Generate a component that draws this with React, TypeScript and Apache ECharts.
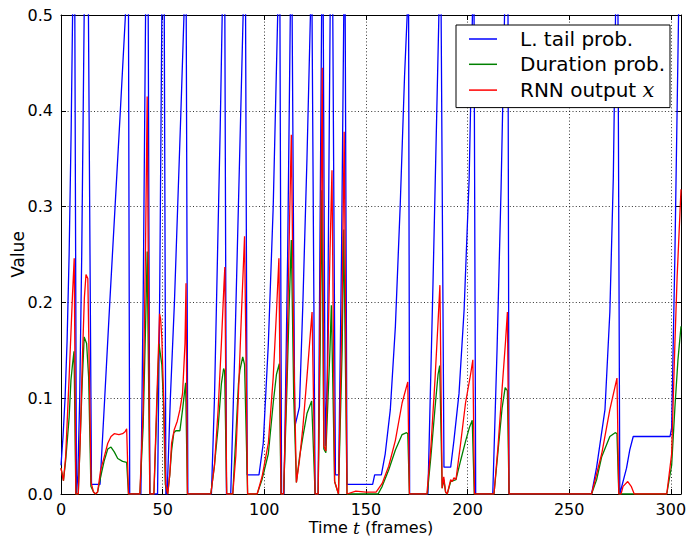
import React, { useEffect, useRef } from 'react';
import * as echarts from 'echarts';

const xMin = 0;
const xMax = 305;
const xStep = 50;
const yMin = 0;
const yMax = 0.5;
const yStep = 0.1;

const seriesNames = ['L. tail prob.', 'Duration prob.', 'RNN output x'];

// [frame, value] — values above 0.5 run off the top of the plot as in the reference
const tailProb: [number, number][] = [
  [0, 0.03], [1, 0.06], [2, 0.1], [3, 0.16], [4, 0.25], [5, 0.38], [5.7, 0.5], [6.2, 0.6], [6.8, 0.5], [7.6, 0],
  [8.3, 0.02], [9.2, 0.1], [10.2, 0.25], [11.4, 0.5], [12.5, 0.6], [13.5, 0.5], [15, 0.01], [19.2, 0.01], [21.5, 0.1], [24, 0.2], [26.6, 0.3], [29.2, 0.4], [31.7, 0.5], [32.5, 0.6], [33.2, 0.5], [33.8, 0],
  [39.3, 0], [40.5, 0.22], [41.6, 0.5], [42.2, 0.6], [42.9, 0.5], [43.7, 0],
  [47.5, 0], [48.6, 0.22], [49.6, 0.5], [50.2, 0.6], [50.8, 0.5], [51.6, 0],
  [52.2, 0], [53.8, 0.1], [55.8, 0.2], [57.4, 0.3], [59, 0.4], [60.5, 0.5], [61, 0.6], [61.6, 0.5], [62.4, 0],
  [74, 0], [75.5, 0.1], [77, 0.25], [78.3, 0.38], [79.3, 0.5], [80, 0.6], [80.6, 0.5], [81.4, 0],
  [83.5, 0], [85.5, 0.15], [87.5, 0.32], [89.6, 0.5], [90.2, 0.6], [90.8, 0.5], [91.6, 0.02], [97.4, 0.02], [99.5, 0.053], [102, 0.157], [104.4, 0.3], [106.6, 0.5], [107.1, 0.6], [107.7, 0.5], [108.5, 0],
  [109.7, 0], [111.5, 0.25], [112.8, 0.5], [113.2, 0.6], [113.7, 0.5], [115, 0.07], [117.3, 0.091], [119, 0.2], [121, 0.35], [122.7, 0.5], [123.1, 0.6], [123.5, 0.5], [125, 0],
  [126.5, 0], [128.2, 0.5], [128.6, 0.6], [129, 0.5], [130, 0.05], [131, 0.12], [132.4, 0.5], [133, 0.6], [133.7, 0.5], [135, 0.02], [136.6, 0.02], [138, 0.25], [139.1, 0.5], [139.4, 0.6], [139.8, 0.5], [140.7, 0.01],
  [153.3, 0.01], [154.3, 0.02], [157.6, 0.02], [159.5, 0.042], [162, 0.088], [164.5, 0.175], [166.9, 0.303], [169, 0.436], [170.3, 0.5], [170.7, 0.6], [171, 0.5], [171.5, 0],
  [180.5, 0], [183, 0.22], [185.9, 0.5], [186.4, 0.6], [187, 0.5], [188.4, 0.028], [191.7, 0.028], [193.3, 0.056], [195.8, 0.105], [198.3, 0.192], [200.8, 0.33], [202.4, 0.5], [202.8, 0.6], [203.2, 0.5], [204, 0],
  [212.4, 0], [214.5, 0.15], [216.5, 0.32], [218.2, 0.5], [219, 0.6], [219.9, 0.5], [220.4, 0],
  [261, 0], [263.5, 0.028], [267.6, 0.088], [270, 0.19], [271.7, 0.33], [272.8, 0.5], [273.4, 0.6], [274, 0.5], [274.9, 0],
  [278.2, 0.027], [279.8, 0.046], [281.5, 0.06], [299.6, 0.06], [300.4, 0.069], [302, 0.25], [303.8, 0.5], [305, 0.75],
];

const durationProb: [number, number][] = [
  [0, 0.027], [1.2, 0.014], [2.3, 0.035], [4, 0.08], [4.9, 0.119], [5.7, 0.136], [6.4, 0.149], [7.3, 0],
  [8.5, 0], [9.5, 0.06], [10.5, 0.12], [11.4, 0.164], [12.6, 0.157], [13.6, 0.122], [14.7, 0.008], [16, 0.002], [17, 0], [18, 0.002], [19.5, 0.018], [21.3, 0.035], [23, 0.047], [24.6, 0.049], [26.2, 0.044], [27.9, 0.037], [30.3, 0.034], [32.3, 0.033], [33.2, 0],
  [38.8, 0], [40.4, 0.07], [41.6, 0.175], [42.4, 0.253], [43.7, 0],
  [45.7, 0], [47, 0.08], [48.2, 0.157], [49.6, 0.135], [50.5, 0.09], [51.3, 0.01], [52.5, 0],
  [53.5, 0.02], [54.4, 0.045], [55.5, 0.064], [56.5, 0.066], [58.5, 0.066], [59.8, 0.088], [61.3, 0.116], [62.2, 0],
  [73.7, 0], [75.5, 0.03], [77.3, 0.07], [78.9, 0.115], [80, 0.131], [80.5, 0.128], [81.5, 0],
  [84.5, 0], [86, 0.06], [87.3, 0.115], [88, 0.129], [89.4, 0.143], [90.3, 0.135], [91.8, 0],
  [96.5, 0], [98.9, 0.015], [102, 0.042], [104.4, 0.095], [106, 0.125], [107.4, 0.136], [108.2, 0],
  [109.5, 0], [111, 0.1], [112.3, 0.2], [113.3, 0.265], [114.5, 0.1], [115.8, 0.012], [117.3, 0.038], [119, 0.06], [121, 0.084], [123.3, 0.097], [125, 0],
  [126.5, 0], [127.5, 0.15], [128.3, 0.317], [129.3, 0.047], [130.3, 0.043], [132.3, 0.15], [133, 0.197], [134.6, 0.013], [136.5, 0], [138.3, 0.15], [139.1, 0.276], [140.7, 0],
  [156, 0], [158, 0.008], [161.2, 0.025], [164.5, 0.046], [167.8, 0.062], [170, 0.064], [170.6, 0.063], [171.4, 0],
  [180.2, 0], [182, 0.04], [184, 0.09], [185.5, 0.125], [186.3, 0.134], [187.5, 0.006], [188.3, 0.015], [189.2, 0.002], [190, 0], [191.7, 0.013], [194.3, 0.015], [196.6, 0.035], [199, 0.055], [201, 0.07], [202.3, 0.077], [203.3, 0],
  [213, 0], [215, 0.045], [217, 0.09], [218.5, 0.111], [219.6, 0.108], [220.4, 0],
  [261, 0], [263.5, 0.015], [266, 0.039], [270, 0.06], [272.6, 0.064], [273.5, 0.063], [274.4, 0],
  [298, 0], [300.4, 0.03], [302, 0.09], [303.5, 0.14], [305, 0.175],
];

const rnnOutput: [number, number][] = [
  [0, 0.027], [1.2, 0.014], [2.3, 0.039], [4, 0.122], [5.7, 0.21], [6.5, 0.246], [7.3, 0],
  [8.5, 0], [9.5, 0.06], [10.5, 0.14], [11.5, 0.205], [12.3, 0.229], [13.2, 0.225], [14.8, 0.012], [16, 0.002], [17, 0], [18, 0.002], [19.5, 0.025], [21.3, 0.039], [23, 0.053], [24.6, 0.06], [26.2, 0.063], [28.5, 0.062], [30.3, 0.063], [31.5, 0.065], [32.3, 0.068], [33.2, 0],
  [38.8, 0], [40.4, 0.088], [41.6, 0.26], [42.4, 0.415], [43.7, 0],
  [45.7, 0], [47, 0.09], [48.5, 0.188], [49, 0.183], [49.6, 0.163], [50.5, 0.1], [51.5, 0.01], [52.5, 0],
  [53.5, 0.02], [54.4, 0.053], [55.7, 0.067], [57.2, 0.076], [58.5, 0.088], [59.8, 0.105], [61, 0.157], [61.5, 0.22], [62.2, 0],
  [73.7, 0], [75.5, 0.03], [77.3, 0.088], [78.9, 0.157], [80.2, 0.22], [80.6, 0.237], [81.5, 0],
  [84.5, 0], [86, 0.04], [87.3, 0.105], [88.8, 0.19], [90.3, 0.269], [91.8, 0],
  [96.5, 0], [98.9, 0.018], [102, 0.053], [104.4, 0.122], [106, 0.19], [107.2, 0.246], [108.2, 0],
  [109.5, 0], [111, 0.12], [112.3, 0.27], [113.3, 0.375], [114.5, 0.15], [115.8, 0.012], [117.3, 0.035], [119, 0.07], [121, 0.122], [123.5, 0.19], [125, 0],
  [126.5, 0], [127.5, 0.2], [128.5, 0.445], [129.3, 0.05], [130.3, 0.045], [132.3, 0.25], [133.3, 0.338], [134.6, 0.013], [136.5, 0], [138.3, 0.2], [139.3, 0.378], [140.7, 0],
  [145, 0.003], [150, 0.002], [155, 0.002], [158, 0.011], [161.2, 0.029], [164.5, 0.056], [167.8, 0.095], [170.6, 0.117], [171.4, 0],
  [180, 0], [182, 0.05], [184, 0.12], [185.5, 0.18], [186.4, 0.218], [187.5, 0.006], [188.3, 0.018], [189.2, 0.002], [190, 0], [191.7, 0.015], [192.5, 0.013], [193.3, 0.017], [194.3, 0.015], [196.6, 0.053], [199, 0.095], [201.5, 0.125], [202.6, 0.14], [203.4, 0],
  [213, 0], [215, 0.05], [217, 0.11], [218.7, 0.16], [219.6, 0.19], [220.4, 0],
  [261, 0], [266, 0.042], [270, 0.088], [273.5, 0.121], [274.4, 0], [275.5, 0], [276.5, 0.008], [278.8, 0.013], [280.5, 0.008], [282, 0],
  [298, 0], [300.4, 0.042], [302, 0.157], [303.1, 0.227], [305, 0.318],
];

const colors = ['#0000ff', '#008000', '#ff0000'];
const FONT = 'DejaVu Sans';

export default function App() {
  const ref = useRef<HTMLDivElement>(null);

  useEffect(() => {
    if (!ref.current) return;
    const chart = echarts.init(ref.current, null, { renderer: 'svg' });

    const frameLine = { show: true, onZero: false, lineStyle: { color: '#000', width: 1 } };
    const tick = { show: true, inside: true, length: 5, lineStyle: { color: '#000', width: 1 } };
    const grid = { show: true, lineStyle: { color: '#000', width: 0.8, type: [1, 2.3] } };
    const label = { color: '#000', fontSize: 16, fontFamily: FONT };

    chart.setOption({
      animation: false,
      grid: { left: 61, right: 7, top: 15, bottom: 44, containLabel: false, outerBoundsMode: 'none' },
      xAxis: [
        {
          type: 'value', min: xMin, max: xMax, interval: xStep, position: 'bottom',
          axisLine: frameLine, axisTick: tick, splitLine: grid,
          axisLabel: { ...label, margin: 7, showMaxLabel: false },
          name: '{a|Time }{i|t}{a| (frames)}', nameLocation: 'middle', nameGap: 25, nameMoveOverlap: false,
          nameTextStyle: {
            verticalAlign: 'top',
            rich: {
              a: { fontSize: 16, fontFamily: FONT, color: '#000' },
              i: { fontSize: 17, fontFamily: 'DejaVu Serif', fontStyle: 'italic', color: '#000' },
            },
          },
        },
        {
          type: 'value', min: xMin, max: xMax, interval: xStep, position: 'top',
          axisLine: frameLine, axisTick: tick, splitLine: { show: false }, axisLabel: { show: false },
        },
      ],
      yAxis: [
        {
          type: 'value', min: yMin, max: yMax, interval: yStep, position: 'left',
          axisLine: frameLine, axisTick: tick, splitLine: grid,
          axisLabel: { ...label, margin: 8, formatter: (v: number) => v.toFixed(1) },
          name: 'Value', nameLocation: 'middle', nameGap: 35, nameRotate: 90, nameMoveOverlap: false,
          nameTextStyle: { fontSize: 17, fontFamily: FONT, color: '#000' },
        },
        {
          type: 'value', min: yMin, max: yMax, interval: yStep, position: 'right',
          axisLine: frameLine, axisTick: tick, splitLine: { show: false }, axisLabel: { show: false },
        },
      ],
      legend: {
        show: true,
        orient: 'vertical',
        left: 456, top: 25,
        backgroundColor: '#fff', borderColor: '#000', borderWidth: 1, borderRadius: 0,
        padding: [4, 5, 7, 13],
        icon: 'rect',
        itemWidth: 28, itemHeight: 1.5, itemGap: 5.3,
        data: seriesNames,
        formatter: (name: string) => (name === seriesNames[2] ? '{n|RNN output }{i|x}' : '{n|' + name + '}'),
        textStyle: {
          padding: [0, 0, 0, 18],
          rich: {
            n: { fontSize: 20, fontFamily: FONT, color: '#000', lineHeight: 24 },
            i: { fontSize: 21, fontFamily: 'DejaVu Serif', fontStyle: 'italic', color: '#000', lineHeight: 24 },
          },
        },
      },
      series: [
        { name: seriesNames[0], data: tailProb },
        { name: seriesNames[1], data: durationProb },
        { name: seriesNames[2], data: rnnOutput },
      ].map((s, i) => ({
        ...s,
        type: 'line',
        xAxisIndex: 0, yAxisIndex: 0,
        symbol: 'none', showSymbol: false,
        clip: true,
        color: colors[i],
        lineStyle: { color: colors[i], width: 1.3 },
        z: 2 + i,
      })),
    });

    return () => chart.dispose();
  }, []);

  return <div ref={ref} style={{ position: 'absolute', left: 0, top: 0, width: 688, height: 538 }} />;
}
